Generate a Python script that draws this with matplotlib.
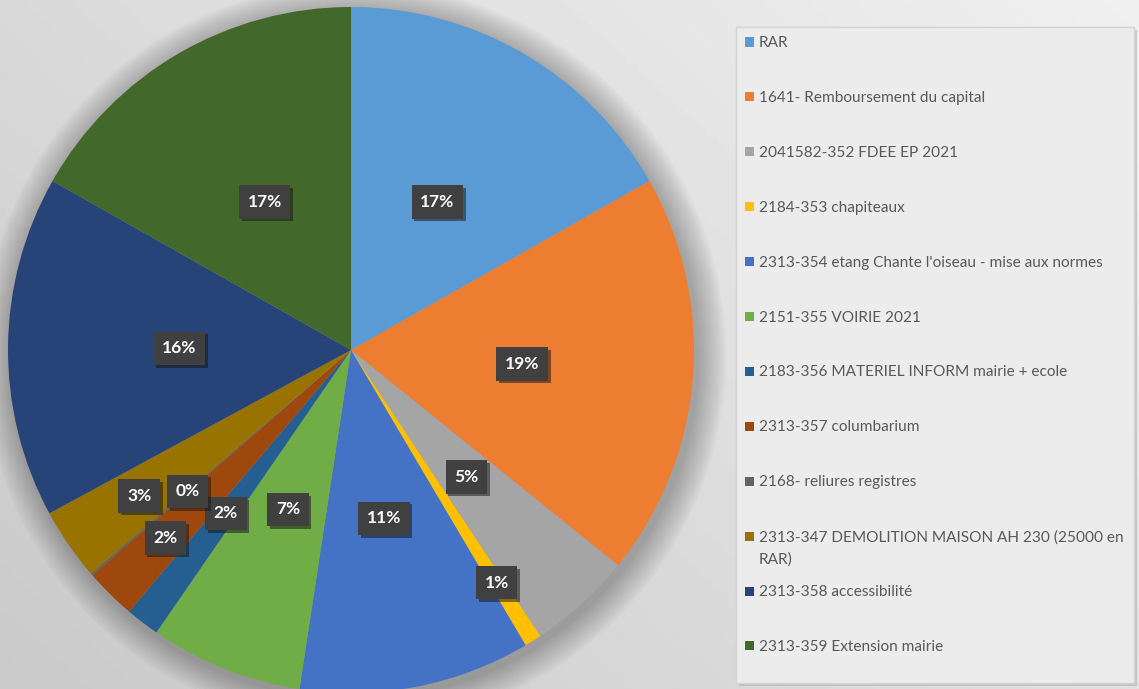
import matplotlib.pyplot as plt
import matplotlib.patches as mpatches
import matplotlib.patheffects as pe
import numpy as np

# data (percent of total)
labels = ['RAR',
          '1641- Remboursement du capital',
          '2041582-352 FDEE EP 2021',
          '2184-353 chapiteaux',
          "2313-354 etang Chante l'oiseau - mise aux normes",
          '2151-355 VOIRIE 2021',
          '2183-356 MATERIEL INFORM mairie + ecole',
          '2313-357 columbarium',
          '2168- reliures registres',
          '2313-347 DEMOLITION MAISON AH 230 (25000 en\nRAR)',
          '2313-358 accessibilité',
          '2313-359 Extension mairie']
values = [16.8, 19.0, 4.9, 0.8, 10.9, 7.2, 1.6, 2.4, 0.1, 3.4, 16.1, 16.8]
colors = ['#5B9BD5', '#ED7D31', '#A5A5A5', '#FFC000', '#4472C4', '#70AD47',
          '#255E91', '#9E480E', '#636363', '#997300', '#264478', '#43682B']
# label distance from centre (fraction of radius)
label_dist = [0.5, 0.5, 0.5, 0.8, 0.5, 0.5, 0.6, 0.77, 0.63, 0.75, 0.5, 0.5]

W, H = 1139, 689
fig = plt.figure(figsize=(W / 100, H / 100), dpi=100)

# background gradient
bg = fig.add_axes([0, 0, 1, 1])
xx, yy = np.meshgrid(np.linspace(0, 1, 200), np.linspace(0, 1, 200))
grad = 0.79 + 0.15 * (0.6 * xx + 0.4 * yy)
bg.imshow(grad, cmap='gray', vmin=0, vmax=1, extent=[0, 1, 0, 1],
          aspect='auto', origin='lower')
bg.set_axis_off()

# legend panel
panel = mpatches.FancyBboxPatch((736 / W, 1 - 683 / H), 398 / W, 656 / H,
                                boxstyle='square,pad=0', transform=fig.transFigure,
                                facecolor='#ececec', edgecolor='#d4d4d4', lw=1.0,
                                path_effects=[pe.withSimplePatchShadow(offset=(2, -2), shadow_rgbFace='#b0b0b0', alpha=0.6),
                                              pe.Normal()])
fig.patches.append(panel)

# pie
cx, cy, R = 351, 350, 343
ax = fig.add_axes([(cx - R) / W, 1 - (cy + R) / H, 2 * R / W, 2 * R / H])
ax.set_axis_off()

# soft shadow behind the pie
for k in range(14):
    ax.add_patch(mpatches.Circle((0.01, -0.015), 1.0 + 0.006 * (14 - k),
                                 facecolor='#000000', alpha=0.018, lw=0,
                                 zorder=0, clip_on=False))

wedges, _ = ax.pie(values, colors=colors, startangle=90, counterclock=False,
                   radius=1.0, wedgeprops=dict(linewidth=0))
ax.set_xlim(-1, 1)
ax.set_ylim(-1, 1)
ax.set_aspect('equal')

total = sum(values)
for w, v, d in zip(wedges, values, label_dist):
    ang = np.deg2rad((w.theta1 + w.theta2) / 2)
    ax.text(d * np.cos(ang), d * np.sin(ang), f'{v / total * 100:.0f}%',
            ha='center', va='center', fontsize=12.5, fontweight='bold',
            family='Lato', color='white', zorder=5,
            bbox=dict(boxstyle='square,pad=0.5', facecolor='#404040',
                      edgecolor='none',
                      path_effects=[pe.withSimplePatchShadow(offset=(2, -2), alpha=0.5)]))

# legend entries
top, step = 42, 54.9
for i, (lab, c) in enumerate(zip(labels, colors)):
    y = top + i * step
    fig.patches.append(mpatches.Rectangle((745 / W, 1 - (y + 4.5) / H), 9 / W, 9 / H,
                                          transform=fig.transFigure, facecolor=c,
                                          edgecolor='none'))
    fig.text(759 / W, 1 - (y - 6) / H, lab, ha='left', va='top', fontsize=11.1,
             family='Lato', color='#595959', linespacing=1.7)

fig.savefig('out.png', dpi=100)
